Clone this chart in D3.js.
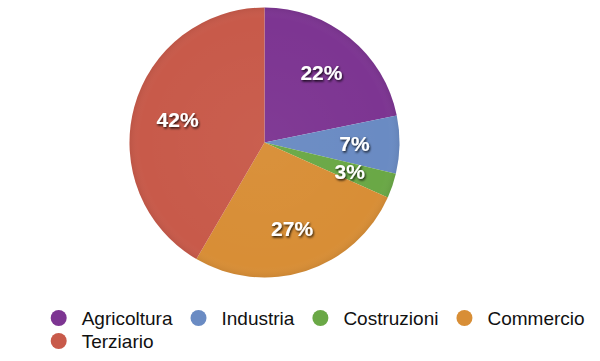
<!DOCTYPE html>
<html>
<head>
<meta charset="utf-8">
<script src="https://cdn.jsdelivr.net/npm/d3@7"></script>
<style>
  html, body { margin: 0; padding: 0; background: #fff; }
  svg { display: block; }
  text { font-family: "Liberation Sans", Arial, Helvetica, sans-serif; }
</style>
</head>
<body>
<svg id="chart" width="600" height="361"></svg>
<script>
const categories = ["Agricoltura", "Industria", "Costruzioni", "Commercio", "Terziario"];
const values = [22, 7, 3, 27, 42];
const colors = ["#7d3592", "#6a8bc3", "#6aa846", "#d88e36", "#c85a4a"];

const W = 600, H = 361;
const cx = 264.5, cy = 142.5, R = 135;

const svg = d3.select("#chart");
const defs = svg.append("defs");
const f = defs.append("filter").attr("id", "shadow").attr("x", "-20%").attr("y", "-20%").attr("width", "150%").attr("height", "160%");
f.append("feDropShadow").attr("dx", 1).attr("dy", 1.5).attr("stdDeviation", 1.1)
  .attr("flood-color", "#000").attr("flood-opacity", 0.85);

const grad = defs.append("radialGradient").attr("id", "shine")
  .attr("cx", "50%").attr("cy", "50%").attr("r", "50%");
grad.append("stop").attr("offset", "0%").attr("stop-color", "#fff").attr("stop-opacity", 0.03);
grad.append("stop").attr("offset", "92%").attr("stop-color", "#fff").attr("stop-opacity", 0);
grad.append("stop").attr("offset", "100%").attr("stop-color", "#000").attr("stop-opacity", 0.06);

const color = d3.scaleOrdinal().domain(categories).range(colors);
const pie = d3.pie().sort(null).value(d => d.value);
const data = categories.map((c, i) => ({ name: c, value: values[i] }));
const arcs = pie(data);
const arc = d3.arc().innerRadius(0).outerRadius(R);
const labelArc = d3.arc().innerRadius(90).outerRadius(90);

const g = svg.append("g").attr("transform", `translate(${cx},${cy})`);
g.selectAll("path.slice").data(arcs).join("path")
  .attr("class", "slice")
  .attr("d", arc)
  .attr("fill", d => color(d.data.name));

g.append("circle").attr("r", R).attr("fill", "url(#shine)");

const total = d3.sum(values);
g.selectAll("text.lbl").data(arcs).join("text")
  .attr("class", "lbl")
  .attr("transform", d => `translate(${labelArc.centroid(d)})`)
  .attr("text-anchor", "middle")
  .attr("dy", "0.36em")
  .attr("fill", "#fff")
  .attr("font-weight", "bold")
  .attr("font-size", 21)
  .attr("filter", "url(#shadow)")
  .text(d => Math.round(d.data.value / total * 100) + "%");

// Legend
const legendRows = [[0, 1, 2, 3], [4]];
const legend = svg.append("g");
const fontSize = 19;
const rowY = [318, 341];
legendRows.forEach((row, ri) => {
  let x = 50.7;
  row.forEach(i => {
    const item = legend.append("g").attr("transform", `translate(${x},${rowY[ri]})`);
    item.append("circle").attr("cx", 8).attr("cy", 0).attr("r", 8).attr("fill", colors[i]);
    const t = item.append("text").attr("x", 31).attr("y", 0).attr("dy", "0.35em")
      .attr("font-size", fontSize).attr("fill", "#111").text(categories[i]);
    const w = t.node().getComputedTextLength();
    x += 31 + w + 18;
  });
});
</script>
</body>
</html>
